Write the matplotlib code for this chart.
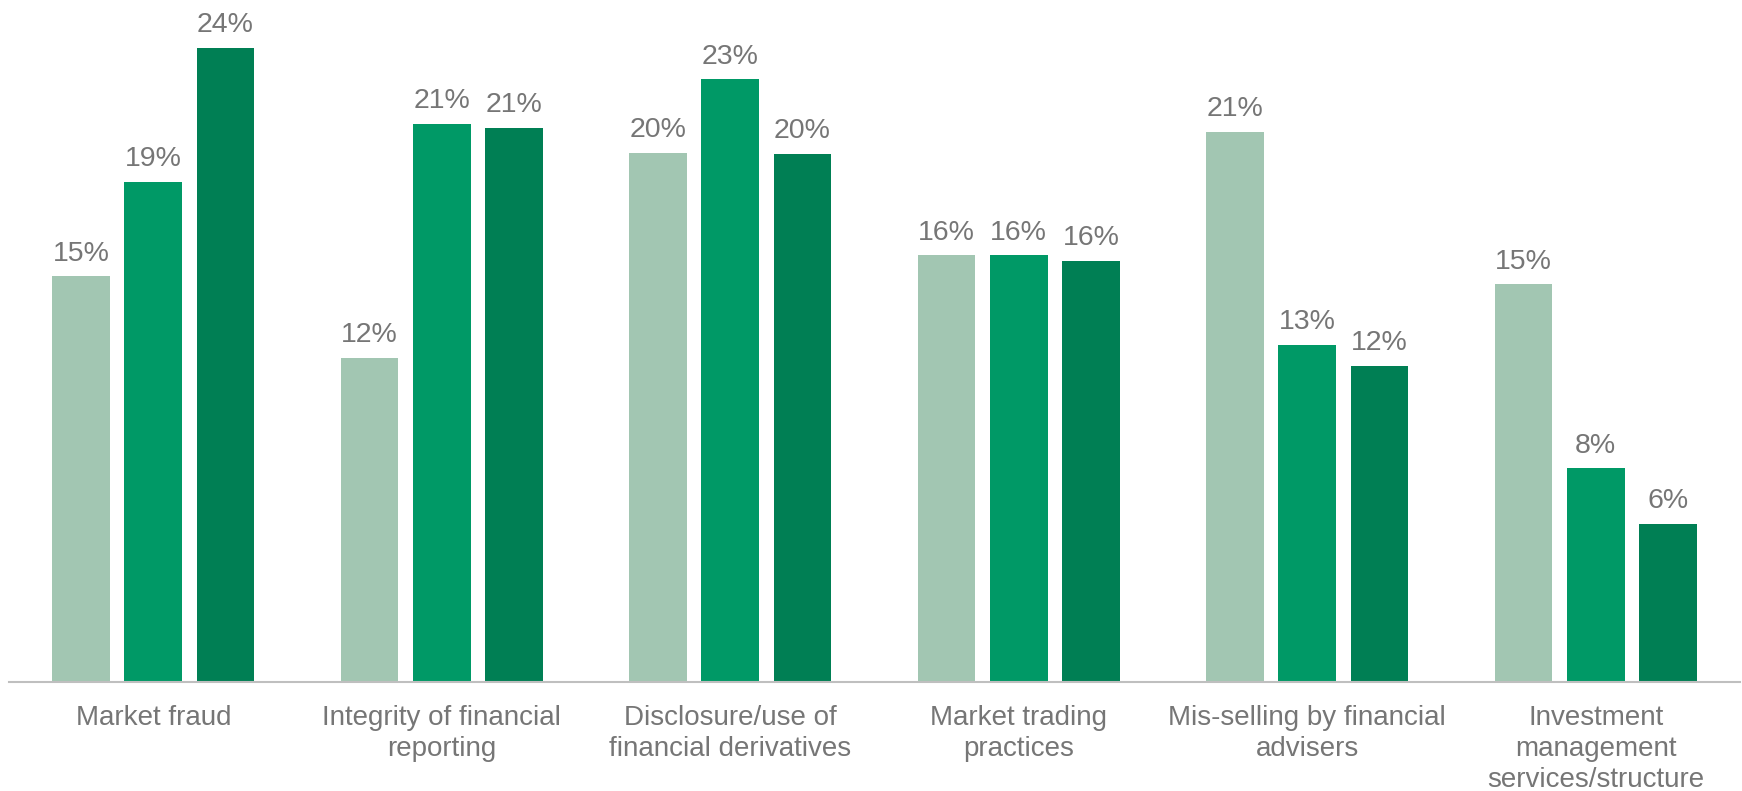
import numpy as np
import matplotlib.pyplot as plt

categories = [
    "Market fraud",
    "Integrity of financial\nreporting",
    "Disclosure/use of\nfinancial derivatives",
    "Market trading\npractices",
    "Mis-selling by financial\nadvisers",
    "Investment\nmanagement\nservices/structure",
]

# three survey waves, light to dark
wave_1 = [15.4, 12.3, 20.1, 16.2, 20.9, 15.1]
wave_2 = [19.0, 21.2, 22.9, 16.2, 12.8, 8.1]
wave_3 = [24.1, 21.05, 20.05, 16.0, 12.0, 6.0]

colors = ["#A2C6B2", "#009966", "#007F54"]
text_grey = "#767676"

plt.rcParams['font.family'] = ['Liberation Sans', 'DejaVu Sans']

fig = plt.figure(figsize=(17.42, 7.91), dpi=100)
ax = fig.add_axes([9 / 1742, 1 - 681.5 / 791, 1731 / 1742, 681.5 / 791])

x = np.arange(len(categories))
for j, vals in enumerate([wave_1, wave_2, wave_3]):
    pos = x + (j - 1) * 0.25
    bars = ax.bar(pos, vals, width=0.2, color=colors[j], zorder=2)
    for b, v in zip(bars, vals):
        ax.annotate(f"{v:.0f}%", (b.get_x() + b.get_width() / 2, v),
                    xytext=(0, 7), textcoords='offset points',
                    ha='center', va='bottom', fontsize=20.5, color=text_grey)

ax.set_xlim(-0.5, len(categories) - 0.5)
ax.set_ylim(0, 681.5 / 26.3)
ax.set_xticks(x)
ax.set_xticklabels(categories, fontsize=20, color=text_grey, linespacing=1.25)
ax.tick_params(axis='x', length=0, pad=17)
ax.set_yticks([])
for s in ['top', 'left', 'right']:
    ax.spines[s].set_visible(False)
ax.spines['bottom'].set_color('#BFBFBF')
ax.spines['bottom'].set_linewidth(1.5)
ax.spines['bottom'].set_zorder(3)

fig.savefig("out.png", dpi=100)
